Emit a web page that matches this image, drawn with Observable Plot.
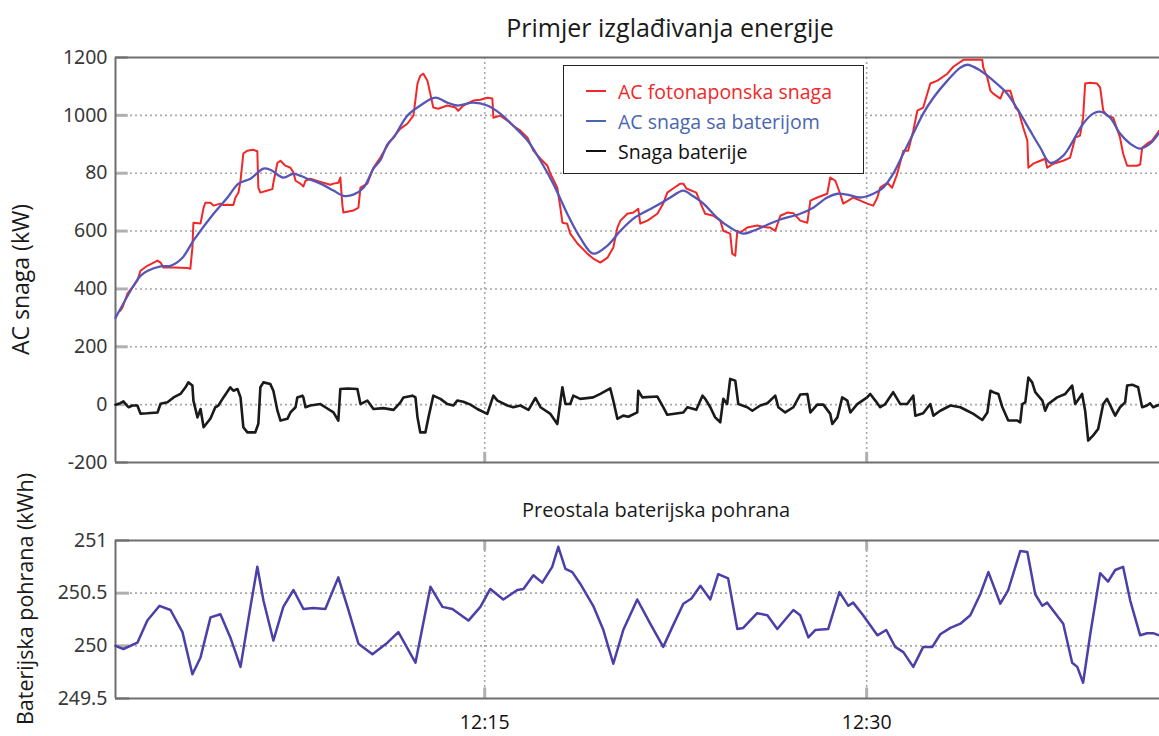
<!DOCTYPE html>
<html>
<head>
<meta charset="utf-8">
<script src="https://cdn.jsdelivr.net/npm/d3@7"></script>
<script src="https://cdn.jsdelivr.net/npm/@observablehq/plot@0.6"></script>
<style>
  body { margin: 0; background: #fff; }
  #wrap { position: relative; width: 1159px; height: 736px; overflow: hidden; background: #fff; font-family: "Open Sans", sans-serif; }
  #top, #bottom { position: absolute; left: 0; }
  #top { top: 0; }
  #bottom { top: 480px; }
  #title { position: absolute; left: 670px; top: 12px; transform: translateX(-50%); font-size: 25px; line-height: 30px; color: #1a1a1a; white-space: nowrap; }
  #sub { position: absolute; left: 656px; top: 498px; transform: translateX(-50%); font-size: 20px; line-height: 24px; color: #1a1a1a; white-space: nowrap; }
  #legend { position: absolute; left: 563px; top: 65px; width: 299px; height: 107px; border: 1.5px solid #222; background: #fff; box-sizing: content-box; }
  .lg-row { position: absolute; left: 0; height: 26px; display: flex; align-items: center; font-size: 19.5px; white-space: nowrap; }
  .lg-sw { display: inline-block; width: 20px; height: 0; border-top: 2px solid; margin-left: 22px; margin-right: 12px; }
  #ylab { position: absolute; left: 0; top: 0; }
</style>
</head>
<body>
<div id="wrap">
  <div id="top"></div>
  <div id="bottom"></div>
  <div id="title"></div>
  <div id="sub"></div>
  <div id="legend"></div>
  <svg id="ylab" width="60" height="736"></svg>
</div>
<script>
// ---- data (time = minutes after 12:00) ----
const pvTime = [
  0.69,0.77,0.97,1.36,1.48,1.75,2.15,2.27,2.38,2.78,
  3.33,3.44,3.52,3.56,3.84,3.96,4.03,4.23,4.35,4.62,
  4.74,4.90,5.13,5.21,5.33,5.41,5.52,5.68,5.90,6.07,
  6.11,6.19,6.47,6.66,6.70,6.86,6.98,7.17,7.37,7.49,
  7.57,7.76,7.88,7.96,8.15,8.55,8.94,9.06,9.25,9.33,
  9.41,9.45,9.84,10.04,10.12,10.39,10.63,10.90,11.30,11.69,
  11.96,12.20,12.36,12.47,12.59,12.75,12.98,13.18,13.53,13.85,
  13.96,14.16,14.55,14.83,15.10,15.30,15.34,15.61,15.89,16.12,
  16.40,16.68,16.91,17.19,17.46,17.58,17.85,17.97,18.05,18.24,
  18.36,18.64,19.03,19.26,19.54,19.82,20.05,20.21,20.33,20.60,
  20.84,21.03,21.11,21.39,21.78,22.01,22.17,22.40,22.68,22.80,
  22.92,23.31,23.55,23.66,23.98,24.25,24.37,24.64,24.72,24.84,
  24.92,25.04,25.31,25.70,26.10,26.21,26.41,26.61,26.88,27.12,
  27.39,27.67,27.79,28.06,28.45,28.57,28.77,28.96,29.08,29.28,
  29.47,29.75,30.02,30.26,30.42,30.53,30.81,31.00,31.20,31.44,
  31.63,31.83,31.99,32.22,32.50,32.78,33.17,33.40,33.80,34.54,
  34.58,34.74,34.86,34.97,35.25,35.37,35.64,35.84,35.96,36.15,
  36.31,36.35,36.54,36.82,37.01,37.09,37.33,37.72,37.99,38.19,
  38.38,38.50,38.58,38.78,39.05,39.17,39.29,39.44,39.68,39.95,
  40.07,40.23,40.62,40.74,40.82,41.01,41.21,41.49
];
const pvPower = [
  325,335,384,429,463,480,498,491,474,474,
  472,470,543,629,626,681,698,698,688,695,
  690,691,690,716,733,774,868,878,881,876,
  750,733,740,745,767,836,843,826,819,802,
  774,764,754,774,781,770,760,764,767,785,
  690,664,671,681,750,764,819,854,913,954,
  971,999,1110,1137,1144,1120,1027,1023,1034,1027,
  1016,1034,1051,1054,1061,1058,992,999,982,964,
  947,923,878,850,826,798,750,681,629,625,
  591,557,522,505,491,508,543,612,636,660,
  664,677,626,636,660,695,733,747,764,764,
  747,733,681,660,653,636,601,591,522,515,
  601,595,612,619,612,612,601,653,664,662,
  636,629,705,716,729,785,774,729,695,705,
  716,705,695,688,716,750,767,750,798,878,
  878,947,1016,1027,1110,1120,1144,1168,1192,1192,
  1165,1130,1085,1075,1058,1085,1085,1027,1016,957,
  913,819,833,843,850,819,833,843,854,923,
  930,992,1110,1113,1110,1096,1016,999,992,923,
  868,826,826,830,888,902,913,947
];
const smoothTime = [
  0.50,1.21,1.48,1.75,2.27,2.66,3.13,3.56,4.35,4.90,
  5.33,5.80,6.31,6.58,7.09,7.49,8.04,8.55,9.06,9.45,
  9.84,10.24,10.63,10.90,11.18,11.42,11.96,12.47,13.06,13.53,
  13.92,14.55,15.10,15.61,16.12,16.68,17.19,17.69,18.24,18.75,
  19.26,19.82,20.33,20.84,21.39,21.90,22.29,22.80,23.16,23.59,
  24.13,24.64,25.15,25.55,26.10,26.61,27.39,27.90,28.45,28.85,
  29.24,29.75,30.26,30.65,31.04,31.44,31.83,32.22,32.62,33.17,
  33.68,33.95,34.46,34.97,35.52,36.03,36.42,36.82,37.21,37.72,
  38.11,38.50,38.89,39.17,39.56,39.95,40.35,40.74,41.13,41.49
];
const smoothPower = [
  300,411,445,462,478,480,508,567,660,716,
  764,781,816,812,785,798,781,764,740,722,
  726,750,816,845,900,923,999,1034,1061,1044,
  1034,1044,1034,1006,964,913,843,764,660,577,
  522,550,601,643,671,695,716,740,722,695,
  646,612,591,601,622,640,660,681,716,729,
  726,716,729,750,798,868,937,1006,1061,1120,
  1165,1175,1155,1120,1075,1006,947,888,836,861,
  913,971,1006,1013,992,937,902,885,902,940
];
const battTime = [
  0.50,0.69,0.81,1.01,1.17,1.36,1.48,1.75,2.15,2.27,
  2.54,2.78,3.05,3.25,3.36,3.52,3.56,3.72,3.84,3.96,
  4.23,4.42,4.54,4.74,5.01,5.13,5.29,5.41,5.52,5.68,
  5.99,6.11,6.19,6.31,6.58,6.70,6.86,6.98,7.25,7.37,
  7.57,7.64,7.84,7.88,7.96,8.15,8.55,8.74,9.06,9.25,
  9.33,9.61,10.00,10.12,10.39,10.63,11.02,11.42,11.69,11.81,
  12.16,12.28,12.36,12.47,12.67,12.79,12.98,13.26,13.53,13.77,
  13.92,14.16,14.44,14.71,15.10,15.34,15.50,15.89,16.12,16.40,
  16.72,16.99,17.19,17.58,17.85,18.05,18.17,18.36,18.48,18.75,
  19.26,19.54,19.93,20.05,20.21,20.44,20.64,20.99,21.03,21.19,
  21.78,22.01,22.17,22.80,22.96,23.31,23.55,23.66,23.86,24.05,
  24.25,24.37,24.52,24.64,24.84,24.96,25.31,25.51,25.82,26.10,
  26.41,26.53,26.80,27.12,27.39,27.67,27.79,28.06,28.30,28.57,
  28.65,28.85,29.04,29.24,29.36,29.63,30.02,30.14,30.34,30.53,
  30.73,31.04,31.32,31.59,31.83,31.91,32.22,32.50,32.62,32.89,
  33.29,33.68,33.95,34.19,34.54,34.74,34.86,34.97,35.17,35.33,
  35.56,35.92,36.03,36.11,36.23,36.35,36.50,36.62,36.90,37.01,
  37.13,37.48,37.80,38.07,38.19,38.46,38.58,38.70,38.89,39.09,
  39.29,39.44,39.76,39.95,40.15,40.23,40.43,40.66,40.82,41.01,
  41.13,41.25,41.49
];
const battPower = [
  0,5,11,-9,-3,-3,-31,-30,-27,3,
  8,25,37,60,77,66,14,-44,-15,-78,
  -48,-9,-3,25,60,48,54,25,-78,-96,
  -96,-66,60,77,71,48,-21,-55,-49,-27,
  -9,25,31,25,-9,-3,2,-9,-27,-55,
  54,56,54,2,14,-15,-12,-18,8,25,
  31,25,-44,-96,-96,-44,31,20,2,-3,
  14,10,0,-15,-32,31,14,-3,-9,-3,
  -18,23,-9,-32,-67,60,2,2,31,20,
  25,37,56,14,-49,-38,-42,-27,48,25,
  28,-9,-35,-27,-9,-18,31,20,-9,-44,
  -61,20,2,89,83,2,-9,-21,-3,5,
  31,-9,-27,-9,35,37,-27,0,0,-32,
  -67,-44,25,14,-27,2,25,37,14,-9,
  2,43,2,2,31,-38,-30,2,-38,-21,
  -3,-9,-21,-32,-53,-27,48,43,37,-9,
  -55,-55,-61,2,8,94,77,43,14,-21,
  2,25,37,66,2,37,-21,-124,-107,-84,
  2,20,-38,-9,8,66,69,60,-9,-3,
  5,-9,0
];
const storeTime = [
  0.50,0.81,1.36,1.75,2.23,2.66,3.13,3.52,3.84,4.23,
  4.62,5.01,5.41,5.80,6.07,6.31,6.70,7.09,7.49,7.88,
  8.27,8.74,9.25,9.61,10.04,10.59,11.18,11.61,12.28,12.87,
  13.34,13.73,14.36,14.83,15.22,15.73,16.28,16.52,16.91,17.26,
  17.65,17.89,18.17,18.44,18.75,19.26,19.66,20.05,20.44,20.99,
  21.50,22.01,22.37,22.80,23.12,23.47,23.86,24.17,24.56,24.92,
  25.15,25.70,26.10,26.49,27.12,27.39,27.71,27.98,28.49,28.93,
  29.28,29.47,29.86,30.42,30.77,31.12,31.44,31.83,32.22,32.58,
  32.89,33.29,33.68,34.07,34.46,34.78,35.25,35.56,36.03,36.31,
  36.62,36.90,37.09,37.72,38.07,38.27,38.50,38.78,39.17,39.48,
  39.76,40.07,40.35,40.74,41.01,41.25,41.49
];
const storeEnergy = [
  250.00,249.97,250.03,250.24,250.38,250.34,250.13,249.73,249.89,250.27,
  250.30,250.08,249.80,250.37,250.75,250.43,250.05,250.37,250.53,250.35,
  250.36,250.35,250.65,250.37,250.02,249.92,250.03,250.13,249.84,250.56,
  250.37,250.35,250.24,250.37,250.54,250.44,250.53,250.54,250.67,250.60,
  250.75,250.94,250.73,250.70,250.59,250.38,250.15,249.83,250.15,250.44,
  250.21,249.99,250.18,250.40,250.45,250.57,250.44,250.68,250.64,250.16,
  250.17,250.31,250.29,250.16,250.34,250.29,250.08,250.15,250.16,250.51,
  250.38,250.41,250.29,250.10,250.15,249.99,249.94,249.80,249.99,249.99,
  250.11,250.17,250.21,250.29,250.49,250.70,250.40,250.53,250.90,250.89,
  250.49,250.38,250.41,250.21,249.84,249.80,249.65,250.11,250.69,250.61,
  250.72,250.75,250.43,250.10,250.12,250.12,250.10
];
const powerTicks = [1200, 1000, 800, 600, 400, 200, 0, -200];
const powerTickLabels = ["1200", "1000", "80", "600", "400", "200", "0", "-200"];
const storeTicks = [251, 250.5, 250, 249.5];
const storeTickLabels = ["251", "250.5", "250", "249.5"];
const timeTicks = [15, 30];
const timeTickLabels = ["12:15", "12:30"];
const timeDomain = [0.5, 41.5];
const seriesNames = ["AC fotonaponska snaga", "AC snaga sa baterijom", "Snaga baterije"];
const seriesColors = ["#f02828", "#4a66b0", "#111111"];
const titleText = "Primjer izglađivanja energije";
const subTitleText = "Preostala baterijska pohrana";
const yTitleTop = "AC snaga (kW)";
const yTitleBottom = "Baterijska pohrana (kWh)";

// ---- build ----
const rows = (ts, vs) => ts.map((t, i) => ({t, v: vs[i]}));
const powerLab = new Map(powerTicks.map((d, i) => [d, powerTickLabels[i]]));
const storeLab = new Map(storeTicks.map((d, i) => [d, storeTickLabels[i]]));
const timeLab = new Map(timeTicks.map((d, i) => [d, timeTickLabels[i]]));
const gridStyle = {stroke: "#a8a8a8", strokeWidth: 1.6, strokeDasharray: "2,3"};
const frameStyle = {stroke: "#6e6e6e", strokeWidth: 2};
const tickStyle = {stroke: "#b0b0b0", strokeWidth: 3};
const plotStyle = {background: "transparent", fontFamily: "'Noto Sans', sans-serif", overflow: "visible"};

const topPlot = Plot.plot({
  width: 1159, height: 480,
  marginLeft: 115, marginRight: 0, marginTop: 57, marginBottom: 18,
  style: plotStyle,
  x: {domain: timeDomain, axis: null},
  y: {domain: [-200, 1200]},
  marks: [
    Plot.ruleY(powerTicks.slice(1, -1), gridStyle),
    Plot.ruleX(timeTicks, gridStyle),
    Plot.ruleY(powerTicks, {x1: timeDomain[0], x2: timeDomain[0] + 0.5, ...tickStyle}),
    Plot.ruleX(timeTicks, {y1: -200, y2: -165, ...tickStyle}),
    Plot.ruleY([1200, -200], frameStyle),
    Plot.ruleX([timeDomain[0]], frameStyle),
    Plot.line(rows(pvTime, pvPower), {x: "t", y: "v", stroke: seriesColors[0], strokeWidth: 2}),
    Plot.line(rows(smoothTime, smoothPower), {x: "t", y: "v", stroke: "#5656b6", strokeWidth: 2.3, curve: "catmull-rom"}),
    Plot.line(rows(battTime, battPower), {x: "t", y: "v", stroke: "#1a1a1a", strokeWidth: 2.6}),
    Plot.axisY(powerTicks, {tickFormat: d => powerLab.get(d), tickSize: 0, tickPadding: 8, fontSize: 19.5, color: "#383838", label: null})
  ]
});
document.getElementById("top").appendChild(topPlot);

const bottomPlot = Plot.plot({
  width: 1159, height: 256,
  marginLeft: 115, marginRight: 0, marginTop: 60, marginBottom: 38,
  style: plotStyle,
  x: {domain: timeDomain},
  y: {domain: [249.5, 251]},
  marks: [
    Plot.ruleY(storeTicks.slice(1, -1), gridStyle),
    Plot.ruleX(timeTicks, gridStyle),
    Plot.ruleY(storeTicks, {x1: timeDomain[0], x2: timeDomain[0] + 0.55, ...tickStyle}),
    Plot.ruleX(timeTicks, {y1: 249.5, y2: 249.6, ...tickStyle}),
    Plot.ruleX(timeTicks, {y1: 250.9, y2: 251, ...tickStyle}),
    Plot.ruleY([251, 249.5], frameStyle),
    Plot.ruleX([timeDomain[0]], frameStyle),
    Plot.line(rows(storeTime, storeEnergy), {x: "t", y: "v", stroke: "#4a40a8", strokeWidth: 2.5}),
    Plot.axisY(storeTicks, {tickFormat: d => storeLab.get(d), tickSize: 0, tickPadding: 8, fontSize: 19.5, color: "#383838", label: null}),
    Plot.axisX(timeTicks, {tickFormat: d => timeLab.get(d), tickSize: 0, tickPadding: 17, fontSize: 19.5, color: "#111", fontFamily: "'Open Sans', sans-serif", label: null})
  ]
});
document.getElementById("bottom").appendChild(bottomPlot);

document.getElementById("title").textContent = titleText;
document.getElementById("sub").textContent = subTitleText;

const legend = document.getElementById("legend");
seriesNames.forEach((name, i) => {
  const row = document.createElement("div");
  row.className = "lg-row";
  row.style.top = (12 + i * 30) + "px";
  const sw = document.createElement("span");
  sw.className = "lg-sw";
  sw.style.borderColor = seriesColors[i];
  const tx = document.createElement("span");
  tx.textContent = name;
  tx.style.color = seriesColors[i];
  row.appendChild(sw); row.appendChild(tx);
  legend.appendChild(row);
});

const ylab = d3.select("#ylab");
ylab.append("text").attr("transform", "translate(29,355) rotate(-90)")
  .attr("text-anchor", "start").attr("font-family", "'Open Sans', sans-serif")
  .attr("font-size", 23).attr("fill", "#1a1a1a").text(yTitleTop);
ylab.append("text").attr("transform", "translate(33,473) rotate(-90)")
  .attr("text-anchor", "end").attr("font-family", "'Open Sans', sans-serif")
  .attr("font-size", 21.5).attr("fill", "#1a1a1a").text(yTitleBottom);
</script>
</body>
</html>
